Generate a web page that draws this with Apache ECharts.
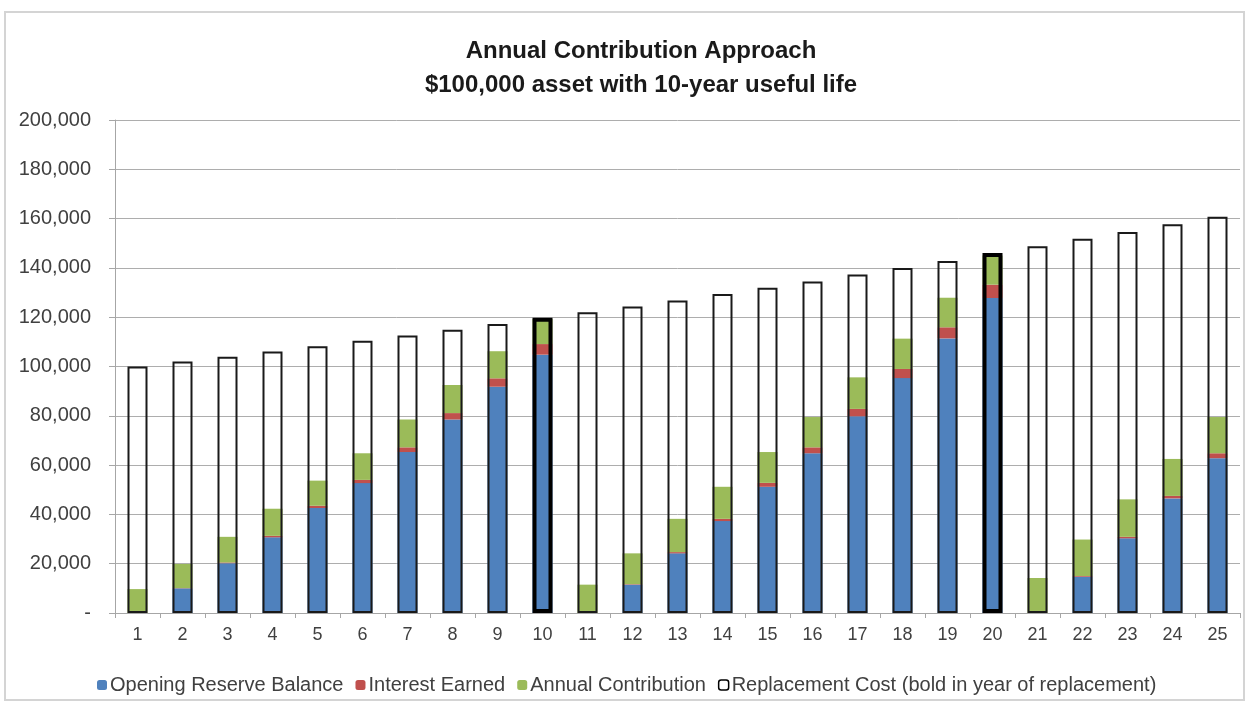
<!DOCTYPE html>
<html lang="en">
<head>
    <meta charset="UTF-8">
    <title>Annual Contribution Approach</title>
    <style>
        body {
            margin: 0;
            background: #fff;
        }
        #chart {
            width: 1249px;
            height: 706px;
        }
    </style>
</head>
<body>
<div id="chart"></div>
<script src="https://cdn.jsdelivr.net/npm/echarts@6/dist/echarts.min.js"></script>
<script>
    var years = ['1','2','3','4','5','6','7','8','9','10','11','12','13','14','15','16','17','18','19','20','21','22','23','24','25'];
    var openingBalance = [0, 10000, 20200, 30700, 42600, 52700, 65300, 78500, 91800, 104800, 0, 11500, 24200, 37300, 51200, 64800, 79800, 95300, 111400, 127800, 0, 14700, 30300, 46500, 62800];
    var interestEarned = [0, 100, 300, 600, 900, 1300, 1900, 2600, 3400, 4300, 0, 200, 500, 900, 1600, 2400, 3000, 3700, 4500, 5400, 0, 300, 600, 1000, 2000];
    var annualContribution = [9700, 9800, 10400, 11000, 10200, 10800, 11300, 11400, 11000, 10200, 11500, 12500, 13500, 13000, 12500, 12300, 12800, 12300, 12000, 11800, 14200, 14800, 15200, 15000, 14700];
    var replacementCost = [100000, 102000, 104000, 106100, 108200, 110400, 112600, 114900, 117200, 119800, 122000, 124300, 126800, 129400, 131900, 134500, 137300, 140000, 142800, 146000, 148800, 151800, 154600, 157700, 160800];
    var replacementYears = ['10', '20'];

    var font = "'Liberation Sans', sans-serif";

    var replacementData = replacementCost.map(function (v, i) {
        var bold = replacementYears.indexOf(years[i]) >= 0;
        return {
            value: v,
            itemStyle: {borderWidth: bold ? 4 : 2, borderColor: bold ? '#000' : '#1a1a1a'}
        };
    });

    var myChart = echarts.init(document.getElementById('chart'));
    var option = {
        animation: false,
        backgroundColor: '#fff',
        graphic: [{
            type: 'rect',
            shape: {x: 5, y: 12, width: 1239, height: 688},
            style: {fill: 'none', stroke: '#d4d4d4', lineWidth: 2},
            silent: true
        }],
        title: {
            text: 'Annual Contribution Approach\n$100,000 asset with 10-year useful life',
            left: 636,
            textAlign: 'center',
            top: 29,
            textStyle: {fontFamily: font, fontSize: 24, fontWeight: 'bold', color: '#1a1a1a', lineHeight: 34}
        },
        legend: {
            bottom: 6,
            left: 92,
            itemWidth: 10,
            itemHeight: 10,
            itemGap: 12,
            textStyle: {fontFamily: font, fontSize: 20, color: '#404040', padding: [0, 0, 0, -2]},
            data: [
                {name: 'Opening Reserve Balance'},
                {name: 'Interest Earned'},
                {name: 'Annual Contribution'},
                {name: 'Replacement Cost (bold in year of replacement)', itemStyle: {color: '#fff', borderColor: '#000', borderWidth: 1.5}}
            ]
        },
        grid: {left: 115, right: 9, top: 120, bottom: 93},
        xAxis: {
            type: 'category',
            data: years,
            axisLine: {lineStyle: {color: '#a6a6a6'}},
            axisTick: {show: true, length: 5, lineStyle: {color: '#a6a6a6'}},
            axisLabel: {fontFamily: font, fontSize: 18, color: '#404040', margin: 13}
        },
        yAxis: {
            type: 'value',
            min: 0,
            max: 200000,
            interval: 20000,
            axisLine: {show: true, lineStyle: {color: '#a6a6a6'}},
            axisTick: {show: true, length: 6, lineStyle: {color: '#a6a6a6'}},
            splitLine: {lineStyle: {color: '#adadad'}},
            axisLabel: {
                fontFamily: font, fontSize: 20, color: '#404040', margin: 24,
                formatter: function (v) {
                    return v === 0 ? '-' : v.toLocaleString('en-US');
                }
            }
        },
        series: [
            {
                name: 'Opening Reserve Balance',
                type: 'bar',
                stack: 'reserve',
                barWidth: 20,
                barGap: '-100%',
                itemStyle: {color: '#4f81bd'},
                data: openingBalance
            },
            {
                name: 'Interest Earned',
                type: 'bar',
                stack: 'reserve',
                barWidth: 20,
                barGap: '-100%',
                itemStyle: {color: '#c0504d'},
                data: interestEarned
            },
            {
                name: 'Annual Contribution',
                type: 'bar',
                stack: 'reserve',
                barWidth: 20,
                barGap: '-100%',
                itemStyle: {color: '#9bbb59'},
                data: annualContribution
            },
            {
                name: 'Replacement Cost (bold in year of replacement)',
                type: 'bar',
                barWidth: 20,
                barGap: '-100%',
                itemStyle: {color: 'rgba(255,255,255,0)', borderColor: '#1a1a1a', borderWidth: 2},
                data: replacementData
            }
        ]
    };
    myChart.setOption(option);
</script>
</body>
</html>
